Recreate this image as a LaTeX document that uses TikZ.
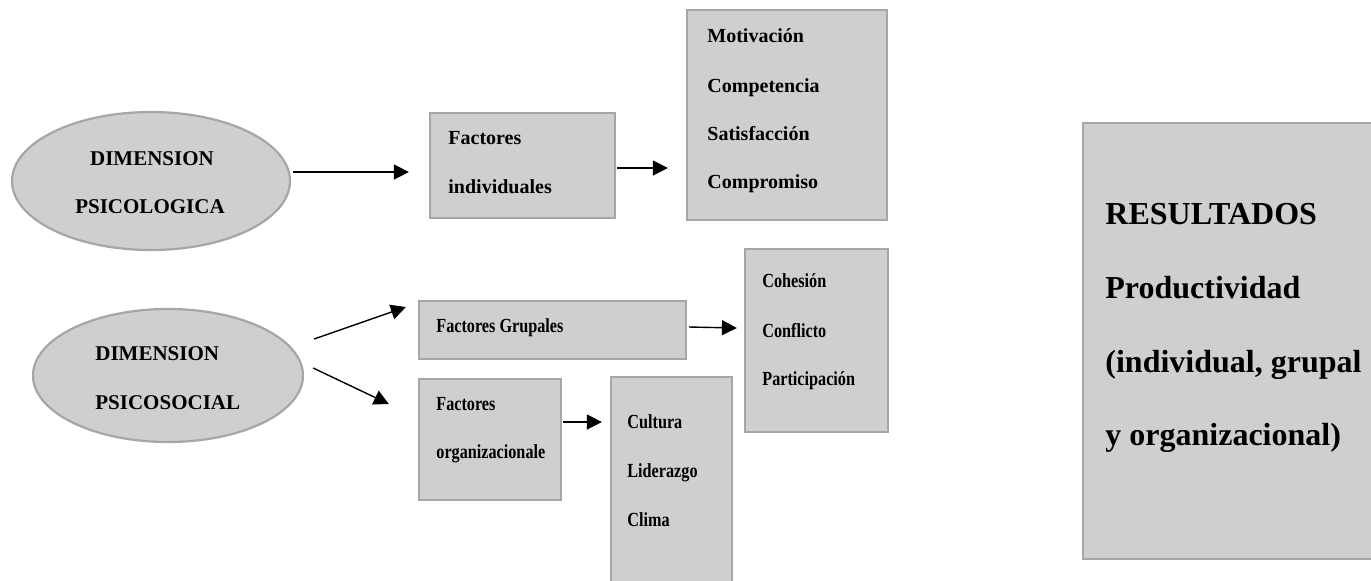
\documentclass[tikz,border=0pt]{standalone}
\usepackage{graphicx}
\usepackage{fontspec}
\setmainfont{Liberation Serif}
\usetikzlibrary{arrows.meta,calc,shapes.geometric}
\definecolor{boxfill}{RGB}{208,206,207}
\definecolor{boxline}{RGB}{166,166,166}
\tikzset{
  shapebox/.style={draw=boxline, fill=boxfill, line width=1.1pt, rectangle, inner sep=0pt},
  oval/.style={draw=boxline, fill=boxfill, line width=1.1pt, ellipse, inner sep=0pt},
  lbl/.style={anchor=base west, inner sep=0pt, font=\bfseries\fontsize{10}{12}\selectfont},
  lblc/.style={anchor=base, inner sep=0pt, font=\bfseries\fontsize{10.5}{12}\selectfont},
  lbld/.style={anchor=base west, inner sep=0pt, font=\bfseries\fontsize{10.5}{12}\selectfont},
  big/.style={anchor=base west, inner sep=0pt, font=\bfseries\fontsize{16}{18}\selectfont},
  arr/.style={-{Triangle[length=7.5pt,width=7.5pt]}, line width=0.7pt, black}
}
\newcommand{\cond}[1]{\scalebox{0.81}[1]{#1}}
\begin{document}
\begin{tikzpicture}[x=0.5pt,y=-0.5pt]
\useasboundingbox (0,0) rectangle (1371,580);
\clip (0,0) rectangle (1371,580);
% shapes
\node[oval, minimum width=139pt, minimum height=69pt] (e1) at (151,181) {};
\node[oval, minimum width=135pt, minimum height=66.5pt] (e2) at (168,375.5) {};
\node[shapebox, minimum width=92.5pt, minimum height=52.5pt] (bi) at (522.5,165.5) {};
\node[shapebox, minimum width=100pt, minimum height=105pt] (bm) at (787,115) {};
\node[shapebox, minimum width=133.5pt, minimum height=29pt] (bg) at (552.5,330) {};
\node[shapebox, minimum width=71.5pt, minimum height=91.5pt] (bc) at (816.5,340.5) {};
\node[shapebox, minimum width=71pt, minimum height=60.5pt] (bo) at (490,439.5) {};
\node[shapebox, minimum width=60.5pt, minimum height=110pt] (bcu) at (671.5,487) {};
\node[shapebox, minimum width=160pt, minimum height=218pt] (br) at (1243,341) {};
% texts
\node[lblc] (t1a) at (152,165) {DIMENSION};
\node[lblc] (t1b) at (150,213) {PSICOLOGICA};
\node[lbld] (t2a) at (95,360) {DIMENSION};
\node[lbld] (t2b) at (95,409) {PSICOSOCIAL};
\node[lbl] (ti1) at (448,144) {Factores};
\node[lbl] (ti2) at (448,193) {individuales};
\node[lbl] (tm1) at (707,42) {Motivación};
\node[lbl] (tm2) at (707,92) {Competencia};
\node[lbl] (tm3) at (707,140) {Satisfacción};
\node[lbl] (tm4) at (707,188) {Compromiso};
\node[lbl] (tg1) at (436,332) {\cond{Factores Grupales}};
\node[lbl] (tc1) at (762,287) {\cond{Cohesión}};
\node[lbl] (tc2) at (762,337) {\cond{Conflicto}};
\node[lbl] (tc3) at (762,385) {\cond{Participación}};
\node[lbl] (to1) at (436,410) {\cond{Factores}};
\node[lbl] (to2) at (436,458) {\cond{organizacionale}};
\node[lbl] (tu1) at (627,428) {\cond{Cultura}};
\node[lbl] (tu2) at (627,477) {\cond{Liderazgo}};
\node[lbl] (tu3) at (627,526) {\cond{Clima}};
\node[big] (tr1) at (1105,224) {RESULTADOS};
\node[big] (tr2) at (1105,298) {Productividad};
\node[big] (tr3) at (1105,372) {(individual, grupal};
\node[big] (tr4) at (1105,445) {y organizacional)};
% connectors
\draw[arr] ($(e1.east)+(2,-9)$) -- ($(bi.west)+(-20,6.5)$);
\draw[arr] ($(bi.east)+(1,2.5)$) -- ($(bm.west)+(-18,53)$);
\draw[arr] ($(e2.east)+(10,-36.5)$) -- ($(bg.west)+(-12,-23)$);
\draw[arr] ($(e2.east)+(9,-7.5)$) -- ($(bo.west)+(-29,-35.5)$);
\draw[arr] ($(bg.east)+(2,-3)$) -- ($(bc.west)+(-7,-12.5)$);
\draw[arr] ($(bo.east)+(1,-17.5)$) -- ($(bcu.west)+(-8,-65)$);
\end{tikzpicture}
\end{document}
